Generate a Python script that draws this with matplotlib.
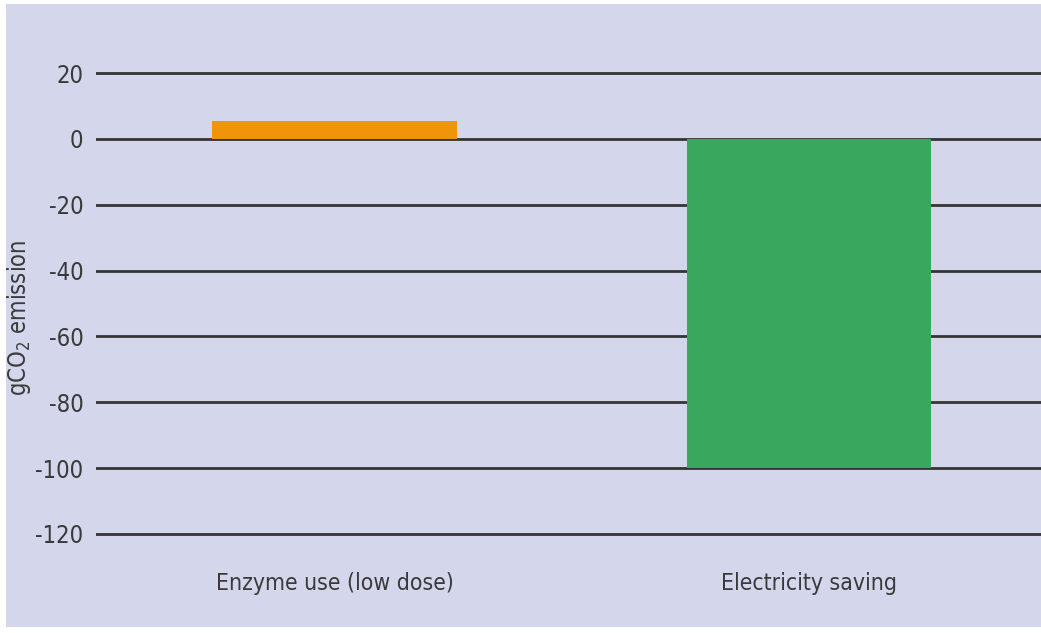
import matplotlib
matplotlib.use("Agg")
import matplotlib.pyplot as plt
from matplotlib.patches import Rectangle

# emission change per measure, gCO2
categories = ["Enzyme use (low dose)", "Electricity saving"]
emissions = [5.5, -100]
bar_colors = ["#f0950a", "#3aa75f"]
yticks = [20, 0, -20, -40, -60, -80, -100, -120]

plt.rcParams['font.family'] = ['DejaVu Sans']
plt.rcParams['font.stretch'] = 'condensed'
bg = "#d4d6eb"
text_col = "#3a3a3a"

fig = plt.figure(figsize=(10.41, 6.33), dpi=100)
fig.patch.set_facecolor("white")
# lavender panel with a thin white border
fig.patches.append(Rectangle((6 / 1041, 6 / 633), 1 - 6 / 1041, 1 - 10 / 633,
                             transform=fig.transFigure, facecolor=bg,
                             edgecolor="none", zorder=-5))

ax = fig.add_axes([96 / 1041, (633 - 566.7) / 633, 1 - 96 / 1041, (566.7 - 40.3) / 633])
ax.set_facecolor("none")
ax.set_zorder(1)

x = list(range(len(categories)))
ax.bar(x, emissions, width=0.516, color=bar_colors, zorder=2)

ax.set_xlim(-0.503, 1.489)
ax.set_ylim(-130, 30)
ax.set_yticks(yticks)
ax.set_yticklabels([str(v) for v in yticks], fontsize=17, color=text_col)
for v in yticks:
    ax.axhline(v, color="#353535", lw=2, zorder=1)

ax.set_xticks(x)
ax.set_xticklabels(categories, fontsize=16.5, color=text_col)
ax.tick_params(axis="y", length=0, pad=9)
ax.tick_params(axis="x", length=0, pad=4)
for s in ax.spines.values():
    s.set_visible(False)

fig.text(19 / 1041, 1 - 318 / 633, "gCO$_2$ emission", rotation=90,
         fontsize=17, color=text_col, ha="center", va="center")

fig.savefig("out.png", dpi=100, facecolor=fig.get_facecolor())
